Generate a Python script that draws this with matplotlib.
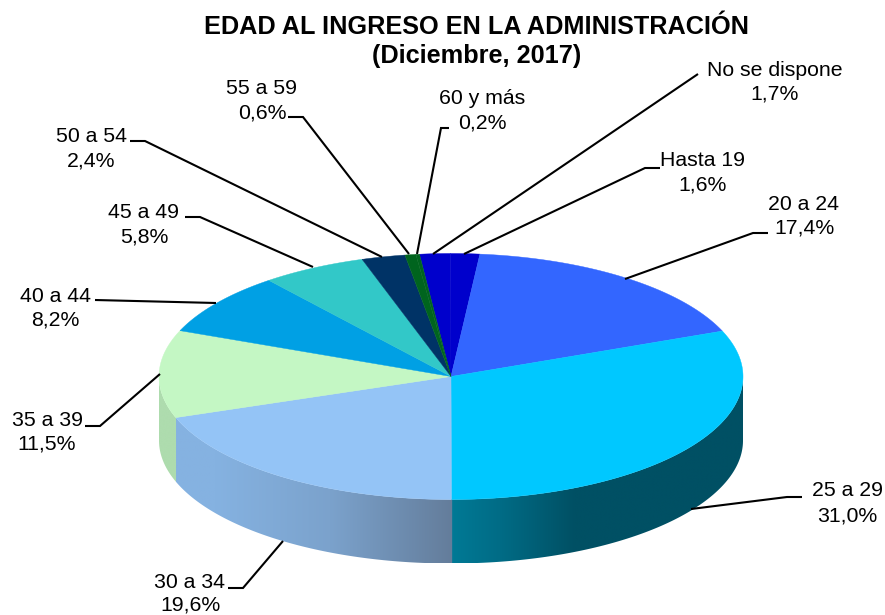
import numpy as np
import matplotlib
matplotlib.use("Agg")
import matplotlib.pyplot as plt
from matplotlib.patches import Polygon
from matplotlib.colors import to_rgb

plt.rcParams['font.family'] = ['Liberation Sans', 'DejaVu Sans']

# data
categories = ["No se dispone", "Hasta 19", "20 a 24", "25 a 29", "30 a 34", "35 a 39",
              "40 a 44", "45 a 49", "50 a 54", "55 a 59", "60 y más"]
values = [1.7, 1.6, 17.4, 31.0, 19.6, 11.5, 8.2, 5.8, 2.4, 0.6, 0.2]
value_labels = ["1,7%", "1,6%", "17,4%", "31,0%", "19,6%", "11,5%", "8,2%", "5,8%", "2,4%", "0,6%", "0,2%"]
title_lines = ["EDAD AL INGRESO EN LA ADMINISTRACIÓN", "(Diciembre, 2017)"]

# style
top_colors = ["#0000CC", "#0000CC", "#3366FF", "#00C8FF", "#94C4F6", "#C4F7C4",
              "#00A0E4", "#32C8C8", "#003366", "#00641E", "#00641E"]
# wall shading: (x pixel, colour) stops per slice index
wall_stops = {
    3: [(451, "#007A96"), (500, "#006C86"), (575, "#005064"), (745, "#005064")],
    4: [(175, "#85B2E1"), (215, "#85B2E1"), (330, "#7BA2CC"), (451, "#647D9B")],
    5: [(155, "#AEDCAE"), (180, "#AEDCAE")],
}

# geometry in pixels
W, H = 885, 615
CX, CY, RX, RY, DEPTH = 451, 376.5, 292, 123, 64
START_DEG = -6.2

# label layout in pixels: (x, y of first line, y of second line, leader points without the rim end)
label_layout = {
    "No se dispone": (775, 70, 94, [(698, 74)]),
    "Hasta 19": (703, 161, 185, [(660, 168), (645, 168)]),
    "20 a 24": (804, 204, 228, [(768, 233), (753, 233)]),
    "25 a 29": (847, 491, 516, [(802, 497), (787, 497)]),
    "30 a 34": (190, 582, 605, [(228, 588), (243, 588)]),
    "35 a 39": (47, 421, 444, [(85, 426), (100, 426)]),
    "40 a 44": (55, 296, 320, [(95, 300)]),
    "45 a 49": (144, 213, 237, [(185, 217), (200, 217)]),
    "50 a 54": (91, 137, 161, [(130, 141), (145, 141)]),
    "55 a 59": (262, 89, 113, [(288, 117), (303, 117)]),
    "60 y más": (482, 99, 123, [(449, 128), (441, 128)]),
}
leader_ends = {
    "No se dispone": (433, 254), "Hasta 19": (464, 254), "20 a 24": (625, 279),
    "25 a 29": (691, 509), "30 a 34": (283, 541), "35 a 39": (160, 374),
    "40 a 44": (216, 303), "45 a 49": (313, 267), "50 a 54": (382, 257),
    "55 a 59": (409, 254), "60 y más": (417, 254),
}

fig = plt.figure(figsize=(W / 100, H / 100), dpi=100)
ax = fig.add_axes([0, 0, 1, 1])
ax.axis("off")


def rim(theta_deg, dy=0.0):
    t = np.radians(theta_deg)
    return CX + RX * np.sin(t), CY - RY * np.cos(t) + dy


fractions = np.array(values) / sum(values)
edges = START_DEG + 360 * np.concatenate([[0], np.cumsum(fractions)])

# walls: horizontal gradient image clipped to the wall outline
for i, (a, b) in enumerate(zip(edges[:-1], edges[1:])):
    lo, hi = max(a - 0.15, 90), min(b, 270)
    if hi <= lo or i not in wall_stops:
        continue
    stops = wall_stops[i]
    xs = [s[0] for s in stops]
    rgb = np.array([to_rgb(s[1]) for s in stops])
    th = np.linspace(lo, hi, 300)
    x, y = rim(th)
    outline = np.r_[np.c_[x, y], np.c_[x, y + DEPTH][::-1]]
    x0, x1 = x.min(), x.max()
    grid = np.linspace(x0, x1, 512)
    img = np.stack([np.interp(grid, xs, rgb[:, k]) for k in range(3)], axis=-1)[None, :, :]
    im = ax.imshow(img, extent=(x0, x1, y.max() + DEPTH, y.min()), aspect="auto",
                   interpolation="bilinear", zorder=1)
    clip = Polygon(outline, closed=True, transform=ax.transData, facecolor="none", edgecolor="none")
    ax.add_patch(clip)
    im.set_clip_path(clip)

# top
for i, (a, b) in enumerate(zip(edges[:-1], edges[1:])):
    th = np.linspace(a, b, 200)
    x, y = rim(th)
    ax.fill(np.r_[CX, x], np.r_[CY, y], facecolor=top_colors[i],
            edgecolor=top_colors[i], linewidth=0.3, zorder=2)

# leaders and labels
for name, vlab in zip(categories, value_labels):
    tx, y1, y2, pts = label_layout[name]
    path = pts + [leader_ends[name]]
    ax.plot([p[0] for p in path], [p[1] for p in path], color="black", lw=1.5,
            solid_capstyle="butt", solid_joinstyle="miter", zorder=3)
    ax.text(tx, y1, name, ha="center", va="center", fontsize=15.3, color="black", zorder=4)
    ax.text(tx, y2, vlab, ha="center", va="center", fontsize=15.3, color="black", zorder=4)

for line, ty in zip(title_lines, (27, 56)):
    ax.text(477, ty, line, ha="center", va="center", fontsize=18.2, fontweight="bold",
            color="black", zorder=4)

ax.set_xlim(0, W)
ax.set_ylim(H, 0)
fig.savefig("out.png", dpi=100, facecolor="white")
